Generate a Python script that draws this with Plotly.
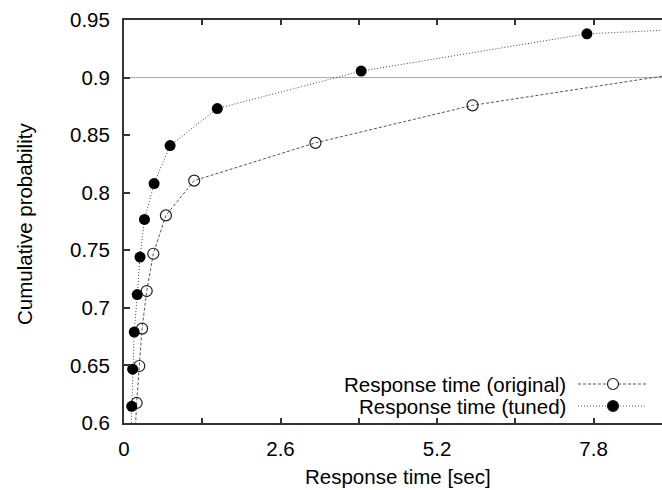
import plotly.graph_objects as go

# ---- data ----
orig_x = [0.18, 0.21, 0.254, 0.30, 0.377, 0.487, 0.696, 1.166, 3.18, 5.79, 9.84]
orig_y = [0.585, 0.6174, 0.6495, 0.682, 0.7146, 0.747, 0.7803, 0.8105, 0.8433, 0.8759, 0.9084]
tuned_x = [0.11, 0.128, 0.144, 0.17, 0.22, 0.266, 0.34, 0.50, 0.766, 1.55, 3.94, 7.69, 21.0]
tuned_y = [0.582, 0.6145, 0.6467, 0.679, 0.7115, 0.7441, 0.7768, 0.8079, 0.8409, 0.8731, 0.9056, 0.938, 0.9705]

x_tickvals = [0, 1.3, 2.6, 3.9, 5.2, 6.5, 7.8]
x_ticktext = ["0", "", "2.6", "", "5.2", "", "7.8"]
y_tickvals = [0.6, 0.65, 0.7, 0.75, 0.8, 0.85, 0.9, 0.95]
y_ticktext = ["0.6", "0.65", "0.7", "0.75", "0.8", "0.85", "0.9", "0.95"]
ref_line_y = 0.9

names = ["Response time (original)", "Response time (tuned)"]

FONT = "Liberation Sans, Arial, Helvetica, sans-serif"
FS = 20.5
AX = "#333333"

W, H = 662, 490
ML, MR, MT, MB = 124, 0, 20, 67
PW = W - ML - MR
PH = H - MT - MB


def px_to_paper(px, py):
    return (px - ML) / PW, (H - MB - py) / PH


fig = go.Figure()

fig.add_trace(go.Scatter(
    x=orig_x, y=orig_y, mode="lines+markers", name=names[0], showlegend=False,
    line=dict(color="#555555", width=1, dash="3px,2px"),
    marker=dict(symbol="circle-open", size=11, color="#222222", line=dict(width=1.2, color="#222222")),
))
fig.add_trace(go.Scatter(
    x=tuned_x, y=tuned_y, mode="lines+markers", name=names[1], showlegend=False,
    line=dict(color="#444444", width=1, dash="1px,2px"),
    marker=dict(symbol="circle", size=11, color="#000000"),
))

shapes = [
    dict(type="line", xref="paper", yref="y", x0=0, x1=1, y0=ref_line_y, y1=ref_line_y,
         line=dict(color="#aaaaaa", width=1), layer="below"),
]
annotations = []

# manual gnuplot-style legend (text right aligned, sample on the right)
rows = [(names[0], 384, "3px,2px", False), (names[1], 406, "1px,2px", True)]
for text, py, dash, filled in rows:
    tx, ty = px_to_paper(568, py)
    annotations.append(dict(text=text, xref="paper", yref="paper", x=tx, y=ty,
                            xanchor="right", yanchor="middle", showarrow=False,
                            font=dict(family=FONT, size=FS, color="black")))
    lx0, _ = px_to_paper(578, py)
    lx1, _ = px_to_paper(647, py)
    shapes.append(dict(type="line", xref="paper", yref="paper", x0=lx0, x1=lx1, y0=ty, y1=ty,
                       line=dict(color="#555555", width=1, dash=dash)))
    mx, _ = px_to_paper(613, py)
    shapes.append(dict(type="circle", xref="paper", yref="paper", xsizemode="pixel", ysizemode="pixel",
                       xanchor=mx, yanchor=ty, x0=-5.5, x1=5.5, y0=-5.5, y1=5.5,
                       fillcolor="black" if filled else "white",
                       line=dict(color="#222222", width=1.2)))

# axis titles
tx, ty = px_to_paper(398, 476)
annotations.append(dict(text="Response time [sec]", xref="paper", yref="paper", x=tx, y=ty,
                        xanchor="center", yanchor="middle", showarrow=False,
                        font=dict(family=FONT, size=FS, color="black")))
tx, ty = px_to_paper(24, 224)
annotations.append(dict(text="Cumulative probability", xref="paper", yref="paper", x=tx, y=ty,
                        xanchor="center", yanchor="middle", showarrow=False, textangle=-90,
                        font=dict(family=FONT, size=FS, color="black")))

fig.update_layout(
    width=W, height=H,
    margin=dict(l=ML, r=MR, t=MT, b=MB, pad=0),
    paper_bgcolor="white", plot_bgcolor="white",
    font=dict(family=FONT, size=FS, color="black"),
    shapes=shapes, annotations=annotations,
    xaxis=dict(range=[0, (W - ML - MR) / 60.2], tickvals=x_tickvals, ticktext=x_ticktext,
               ticks="inside", ticklen=5, tickwidth=1.5, tickcolor=AX,
               showline=True, linecolor=AX, linewidth=2, mirror="ticks",
               showgrid=False, zeroline=False, ticklabelstandoff=6),
    yaxis=dict(range=[0.6, 0.95], tickvals=y_tickvals, ticktext=y_ticktext,
               ticks="inside", ticklen=6, tickwidth=1.5, tickcolor=AX,
               showline=True, linecolor=AX, linewidth=2, mirror=False,
               showgrid=False, zeroline=False, ticklabelstandoff=8),
)

fig.write_html("out.html")
